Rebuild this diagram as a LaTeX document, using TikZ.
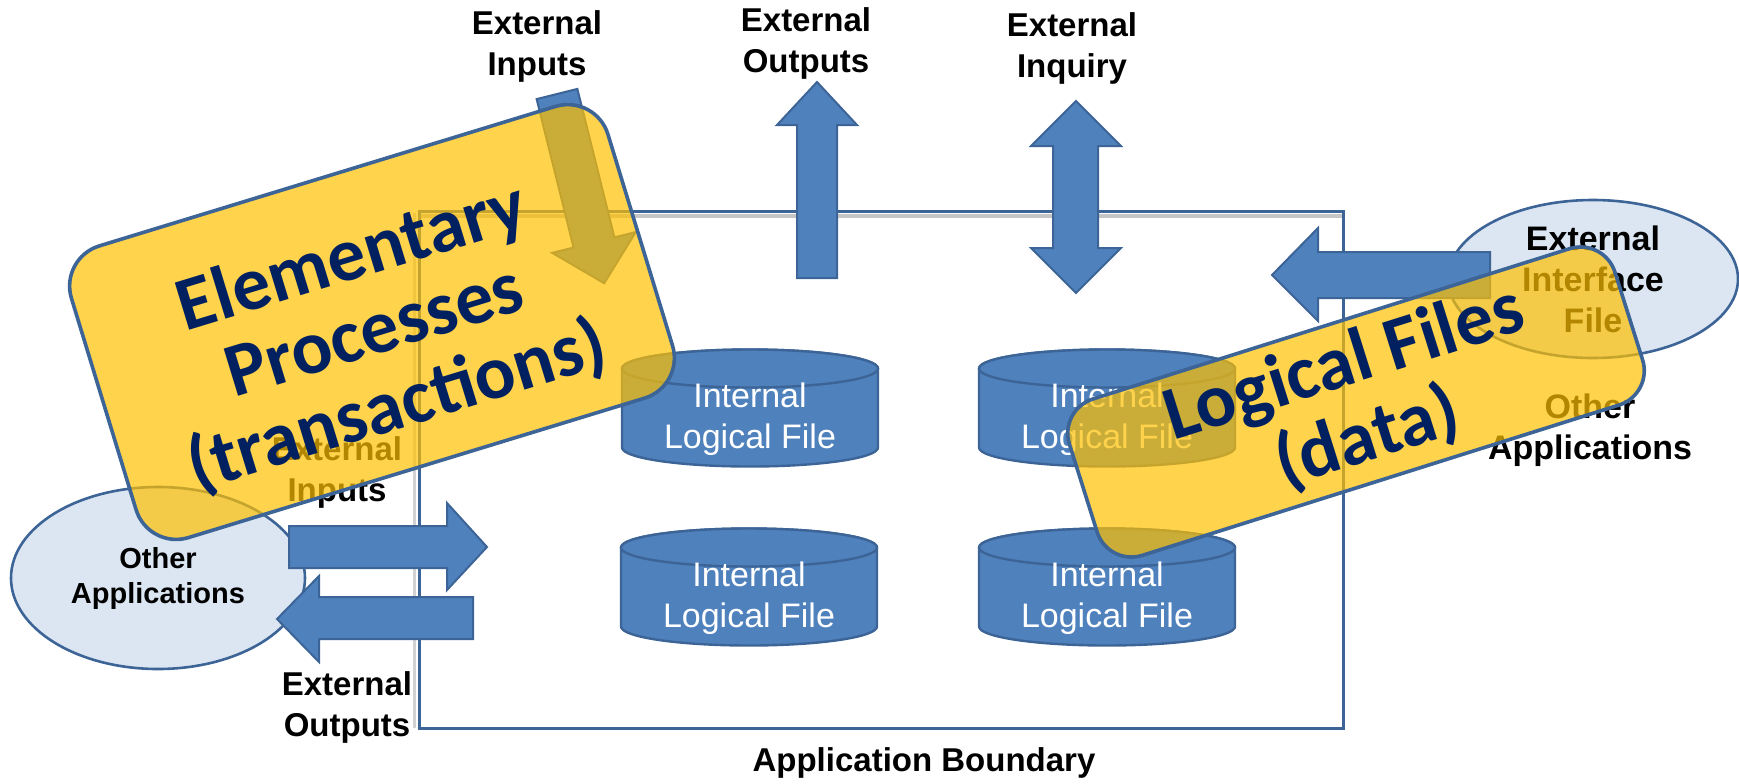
\documentclass[tikz,border=0pt]{standalone}
\usepackage{fontspec}
\setmainfont{Liberation Sans}
\newfontfamily\calibri{Carlito}
\usetikzlibrary{shapes.geometric}

\definecolor{fpblue}{HTML}{4F81BD}
\definecolor{fpedge}{HTML}{3C6496}
\definecolor{fplight}{HTML}{DCE6F2}
\definecolor{fpyellow}{HTML}{FFC000}
\definecolor{fpnavy}{HTML}{002060}

\begin{document}
\begin{tikzpicture}[x=0.5pt,y=-0.5pt,
  boundary/.style={draw=fpedge, line width=1.5pt},
  blockarrow/.style={fill=fpblue, draw=fpedge, line width=1pt, line join=miter},
  ilf/.style={fill=fpblue, draw=fpedge, line width=1.2pt},
  app/.style={ellipse, fill=fplight, draw=fpedge, line width=1.3pt, inner sep=0pt, align=center},
  txt/.style={align=center, inner sep=0pt, font=\bfseries\fontsize{16.5}{20.5}\selectfont},
  note/.style={rectangle, rounded corners=21pt, fill=fpyellow, fill opacity=0.7, text opacity=1,
    draw=fpedge, line width=1.8pt, align=center, inner sep=0pt, text=fpnavy,
    font=\calibri\bfseries\fontsize{38}{39}\selectfont},
  notetext/.style={align=center, inner sep=0pt, text=fpnavy,
    font=\calibri\bfseries\fontsize{38}{39}\selectfont}]

  \useasboundingbox (0,0) rectangle (1739,783);

  % application boundary with its shadow
  \draw[gray!45, line width=2pt] (421,216) -- (1343,216);
  \draw[gray!35, line width=1.5pt] (414,213) -- (414,728);
  \draw[boundary] (419,211) rectangle (1343,728);

  \node[app, minimum width=147pt, minimum height=91pt,
    font=\bfseries\fontsize{14.5}{17.5}\selectfont] (otherL) at (158,578) {Other\\Applications};
  \node[app, minimum width=145pt, minimum height=79pt,
    font=\bfseries\fontsize{17}{20.5}\selectfont] (eif) at (1593,279) {External\\Interface\\File};

  % block arrows
  \draw[blockarrow] (797,278) -- (797,125) -- (777,125) -- (817,82) -- (857,125)
    -- (837,125) -- (837,278) -- cycle;
  \draw[blockarrow] (1053,146) -- (1031,146) -- (1076,101) -- (1121,146) -- (1098,146)
    -- (1098,248) -- (1121,248) -- (1076,293) -- (1031,248) -- (1053,248) -- cycle;
  \draw[blockarrow] (1490,252) -- (1318,252) -- (1318,228) -- (1272,275) -- (1318,321)
    -- (1318,298) -- (1490,298) -- cycle;
  \draw[blockarrow] (289,526) -- (447,526) -- (447,503) -- (487,547) -- (447,590)
    -- (447,568) -- (289,568) -- cycle;
  \draw[blockarrow] (473,597) -- (319,597) -- (319,576) -- (277,619) -- (319,662)
    -- (319,639) -- (473,639) -- cycle;
  \begin{scope}[shift={(557,94)}, rotate=14]
    \draw[blockarrow] (-21,0) -- (-21,153) -- (-43,153) -- (0,195) -- (43,153)
      -- (21,153) -- (21,0) -- cycle;
  \end{scope}

  % internal logical files
  \foreach \cx/\cy/\n in {750/408/1, 1107/408/2, 749/587/3, 1107/587/4} {
    \begin{scope}[shift={(\cx,\cy)}]
      \filldraw[ilf] (-128,-39.5) -- (-128,39.5)
        arc[start angle=180, end angle=0, x radius=128, y radius=19]
        -- (128,-39.5) arc[start angle=0, end angle=-180, x radius=128, y radius=19] -- cycle;
      \draw[ilf] (0,-39.5) ellipse[x radius=128, y radius=19];
      \node[text=white, align=center, inner sep=0pt, font=\fontsize{17}{20.5}\selectfont]
        (ilf\n) at (0,11) {Internal\\Logical File};
    \end{scope}
  }

  \node[txt] (eiTop) at (537,46) {External\\Inputs};
  \node[txt] (eoTop) at (806,43) {External\\Outputs};
  \node[txt] (eqTop) at (1072,48) {External\\Inquiry};
  \node[txt] (eiLeft) at (337,472) {External\\Inputs};
  \node[txt] (eoLeft) at (347,707) {External\\Outputs};
  \node[txt] (bndLabel) at (924,763) {Application Boundary};
  \node[txt, font=\bfseries\fontsize{17}{20.5}\selectfont] (otherR) at (1590,430) {Other\\Applications};

  % overlays
  \node[note, minimum width=280.5pt, minimum height=152.5pt, rotate=17]
    (elementary) at (372,322) {};
  \node[notetext, rotate=17] (elementaryText) at (375,333) {Elementary\\Processes\\(transactions)};
  \node[note, minimum width=286pt, minimum height=82pt, rounded corners=18pt, rotate=17.5]
    (logical) at (1356,402) {Logical Files\\(data)};
\end{tikzpicture}
\end{document}
